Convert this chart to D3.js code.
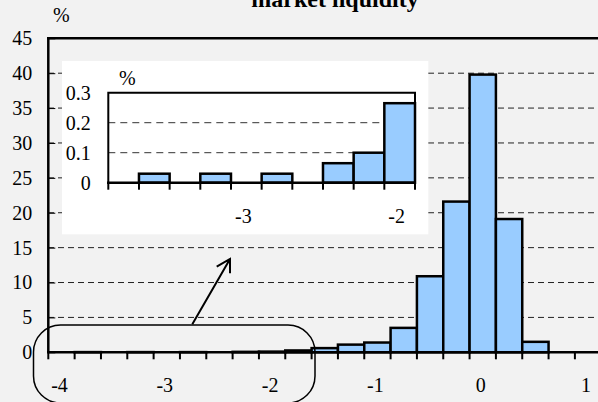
<!DOCTYPE html>
<html>
<head>
<meta charset="utf-8">
<script src="https://cdn.jsdelivr.net/npm/d3@7"></script>
<style>
  body { margin: 0; background: #f2f2f2; }
  svg text { font-family: "Liberation Serif", "Times New Roman", serif !important; }
  .lbl { font-size: 20px; fill: #000; }
  .title { font-size: 24px; font-weight: bold; }
</style>
</head>
<body>
<svg width="598" height="402"></svg>
<script>
// main histogram: bins of 0.25 from -4 to 1
var bins = [-4, -3.75, -3.5, -3.25, -3, -2.75, -2.5, -2.25, -2, -1.75, -1.5,
            -1.25, -1, -0.75, -0.5, -0.25, 0, 0.25, 0.5, 0.75, 1];
var values = [0, 0.03, 0, 0.03, 0, 0.03, 0, 0.065, 0.1, 0.265, 0.6,
              1.1, 1.4, 3.5, 10.9, 21.6, 39.8, 19.1, 1.5, 0, 0];
var xLabels = [-4, -3, -2, -1, 0, 1];
var yTicks = [0, 5, 10, 15, 20, 25, 30, 35, 40, 45];

// inset (zoom of the left tail)
var insetBins = [-3.8, -3.6, -3.4, -3.2, -3, -2.8, -2.6, -2.4, -2.2, -2];
var insetValues = [0, 0.03, 0, 0.03, 0, 0.03, 0, 0.065, 0.1, 0.265];
var insetXLabels = [-3, -2];
var insetYTicks = [0, 0.1, 0.2, 0.3];

var svg = d3.select("svg");

var x = d3.scaleBand().domain(bins).range([48.3, 48.3 + 21 * 26.33]).padding(0);
var y = d3.scaleLinear().domain([0, 45]).range([352.3, 38.3]);

// gridlines
svg.append("g").selectAll("line")
    .data(yTicks.filter(function(d) { return d > 0 && d < 45; }))
    .enter().append("line")
    .attr("x1", 48).attr("x2", 598)
    .attr("y1", function(d) { return y(d); })
    .attr("y2", function(d) { return y(d); })
    .attr("stroke", "#222").attr("stroke-width", 1)
    .attr("stroke-dasharray", "6,4");

// bars
svg.append("g").selectAll("rect")
    .data(values)
    .enter().append("rect")
    .attr("x", function(d, i) { return x(bins[i]); })
    .attr("width", x.bandwidth())
    .attr("y", function(d) { return y(d); })
    .attr("height", function(d) { return y(0) - y(d); })
    .attr("fill", "#99ccff")
    .attr("stroke", function(d) { return d > 0 ? "#000" : "none"; })
    .attr("stroke-width", 2.5);

// y axis with inward ticks
var yAxis = svg.append("g")
    .attr("transform", "translate(48.3,0)")
    .call(d3.axisLeft(y).tickValues(yTicks).tickSize(-7).tickPadding(16)
        .tickFormat(function(d) { return d; }));
yAxis.select(".domain").remove();
yAxis.selectAll("text").attr("class", "lbl").attr("font-size", 20).attr("fill", "#000");
yAxis.selectAll("line").attr("stroke", "#000");

// x axis: ticks at bin edges, labels at bin centres
var edges = bins.map(function(b) { return x(b); });
svg.append("g").selectAll("line")
    .data(edges)
    .enter().append("line")
    .attr("x1", function(d) { return d; }).attr("x2", function(d) { return d; })
    .attr("y1", y(0)).attr("y2", y(0) + 7)
    .attr("stroke", "#000").attr("stroke-width", 2);

svg.append("g").selectAll("text")
    .data(xLabels)
    .enter().append("text")
    .attr("class", "lbl")
    .attr("text-anchor", "middle")
    .attr("x", function(d) { return x(d) + x.bandwidth() / 2 - 2; })
    .attr("y", 392)
    .text(function(d) { return String(d); });

// frame lines
svg.append("line").attr("x1", 48.3).attr("x2", 48.3).attr("y1", y(45)).attr("y2", y(0))
    .attr("stroke", "#000").attr("stroke-width", 2.5);
svg.append("line").attr("x1", 47).attr("x2", 598).attr("y1", y(45)).attr("y2", y(45))
    .attr("stroke", "#000").attr("stroke-width", 2.5);
svg.append("line").attr("x1", 47).attr("x2", 598).attr("y1", y(0)).attr("y2", y(0))
    .attr("stroke", "#000").attr("stroke-width", 2.5);

svg.append("text").attr("class", "lbl").attr("x", 53).attr("y", 22).text("%");

svg.append("text").attr("class", "title")
    .attr("text-anchor", "middle")
    .attr("x", 335).attr("y", 7)
    .text("market liquidity");

// ---- inset ----
svg.append("rect").attr("x", 62).attr("y", 61).attr("width", 366.3).attr("height", 173.3)
    .attr("fill", "#fff");

var xi = d3.scaleBand().domain(insetBins).range([108.3, 415]).padding(0);
var yi = d3.scaleLinear().domain([0, 0.3]).range([182.7, 92.7]);

svg.append("g").selectAll("line")
    .data([0.1, 0.2])
    .enter().append("line")
    .attr("x1", 108.3).attr("x2", 415)
    .attr("y1", function(d) { return yi(d); })
    .attr("y2", function(d) { return yi(d); })
    .attr("stroke", "#333").attr("stroke-width", 1)
    .attr("stroke-dasharray", "7,5");

svg.append("g").selectAll("rect")
    .data(insetValues)
    .enter().append("rect")
    .attr("x", function(d, i) { return xi(insetBins[i]); })
    .attr("width", xi.bandwidth())
    .attr("y", function(d) { return yi(d); })
    .attr("height", function(d) { return yi(0) - yi(d); })
    .attr("fill", "#99ccff")
    .attr("stroke", function(d) { return d > 0 ? "#000" : "none"; })
    .attr("stroke-width", 2.5);

// inset frame
svg.append("path")
    .attr("d", "M108.3," + yi(0) + "V" + yi(0.3) + "H415V" + yi(0))
    .attr("fill", "none").attr("stroke", "#000").attr("stroke-width", 2);
svg.append("line").attr("x1", 107).attr("x2", 416).attr("y1", yi(0)).attr("y2", yi(0))
    .attr("stroke", "#000").attr("stroke-width", 2.5);

var iedges = insetBins.map(function(b) { return xi(b); }).concat([415]);
svg.append("g").selectAll("line")
    .data(iedges)
    .enter().append("line")
    .attr("x1", function(d) { return d; }).attr("x2", function(d) { return d; })
    .attr("y1", yi(0)).attr("y2", yi(0) + 7)
    .attr("stroke", "#000").attr("stroke-width", 2);

svg.append("g").selectAll("text")
    .data(insetXLabels)
    .enter().append("text")
    .attr("class", "lbl")
    .attr("text-anchor", "middle")
    .attr("x", function(d) { return xi(d) + xi.bandwidth() / 2 - 3; })
    .attr("y", 223)
    .text(function(d) { return String(d); });

svg.append("g").selectAll("text")
    .data(insetYTicks)
    .enter().append("text")
    .attr("class", "lbl")
    .attr("text-anchor", "end")
    .attr("x", 90.7)
    .attr("y", function(d) { return yi(d) + 7; })
    .text(function(d) { return d; });

svg.append("text").attr("class", "lbl").attr("x", 119).attr("y", 85).text("%");

// rounded callout box around the tail and arrow to the inset
svg.append("rect").attr("x", 33.5).attr("y", 325).attr("width", 281.5).attr("height", 78)
    .attr("rx", 27).attr("ry", 27)
    .attr("fill", "none").attr("stroke", "#000").attr("stroke-width", 1.5);

svg.append("path")
    .attr("d", "M192.3,324.3L230,259M216.7,266.7L230,259L230,273.3")
    .attr("fill", "none").attr("stroke", "#000").attr("stroke-width", 2);
</script>
</body>
</html>
